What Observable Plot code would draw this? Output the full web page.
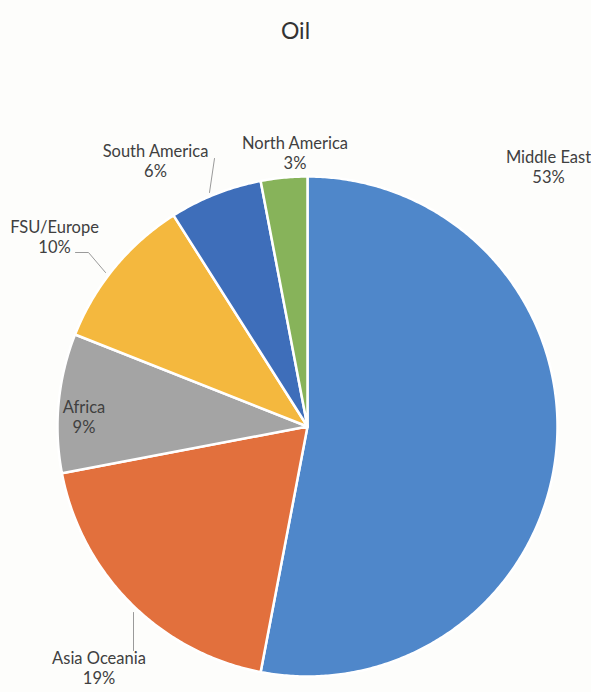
<!DOCTYPE html>
<html>
<head>
<meta charset="utf-8">
<script src="https://cdn.jsdelivr.net/npm/d3@7"></script>
<script src="https://cdn.jsdelivr.net/npm/@observablehq/plot@0.6"></script>
<style>
  html, body { margin: 0; padding: 0; background: #fdfdfb; }
  #title { height: 56px; box-sizing: border-box; padding-top: 16px; text-align: center;
           font-family: Lato, "Open Sans", sans-serif; font-size: 23px; line-height: 28px; color: #333; }
  svg { display: block; }
</style>
</head>
<body>
<div id="title">Oil</div>
<div id="chart"></div>
<script>
// ---- data ----
const regions = ["Middle East", "Asia Oceania", "Africa", "FSU/Europe", "South America", "North America"];
const shares  = [53, 19, 9, 10, 6, 3];
const palette = ["#4f87ca", "#e2703d", "#a4a4a4", "#f4b83e", "#3e6eba", "#87b35a"];

// ---- layout (label anchors and leader lines, in unit-circle coordinates) ----
const labelAnchors = [[0.964, 1.04], [-0.834, -0.964], [-0.894, 0.04], [-1.012, 0.76], [-0.608, 1.064], [-0.05, 1.096]];
const leaders = [
  {name: "South America", pts: [[-0.372, 1.072], [-0.392, 0.936]]},
  {name: "FSU/Europe", pts: [[-0.928, 0.696], [-0.876, 0.696], [-0.808, 0.616]]},
  {name: "Asia Oceania", pts: [[-0.696, -0.744], [-0.696, -0.896]]}
];

// build slice polygons (clockwise from 12 o'clock)
const total = d3.sum(shares);
const slicePts = [];
let acc = 0;
regions.forEach((name, i) => {
  const a0 = acc / total * 2 * Math.PI;
  acc += shares[i];
  const a1 = acc / total * 2 * Math.PI;
  const n = Math.max(2, Math.ceil((a1 - a0) / (Math.PI / 360)));
  slicePts.push({name, x: 0, y: 0});
  for (let k = 0; k <= n; k++) {
    const a = a0 + (a1 - a0) * k / n;
    slicePts.push({name, x: Math.sin(a), y: Math.cos(a)});
  }
  slicePts.push({name, x: 0, y: 0});
});

const labels = regions.map((name, i) => ({
  name, text: `${name}\n${shares[i]}%`, x: labelAnchors[i][0], y: labelAnchors[i][1]
}));
const leaderPts = leaders.flatMap(l => l.pts.map(([x, y]) => ({name: l.name, x, y})));

const chart = Plot.plot({
  width: 591,
  height: 636,
  margin: 0,
  style: {background: "transparent"},
  x: {domain: [-1, 1], range: [57, 557], axis: null},
  y: {domain: [-1, 1], range: [620, 120], axis: null},
  color: {domain: regions, range: palette},
  marks: [
    Plot.line(slicePts, {x: "x", y: "y", z: "name", fill: "name", stroke: "white", strokeWidth: 2.5, strokeLinejoin: "round"}),
    Plot.line(leaderPts, {x: "x", y: "y", z: "name", stroke: "#9a9a9a", strokeWidth: 1}),
    Plot.text(labels, {x: "x", y: "y", text: "text", fill: "#404040", fontSize: 16.5,
      fontFamily: "Lato, 'Open Sans', sans-serif", lineHeight: 1.25, textAnchor: "middle", lineAnchor: "middle"})
  ]
});
document.getElementById("chart").appendChild(chart);
</script>
</body>
</html>
